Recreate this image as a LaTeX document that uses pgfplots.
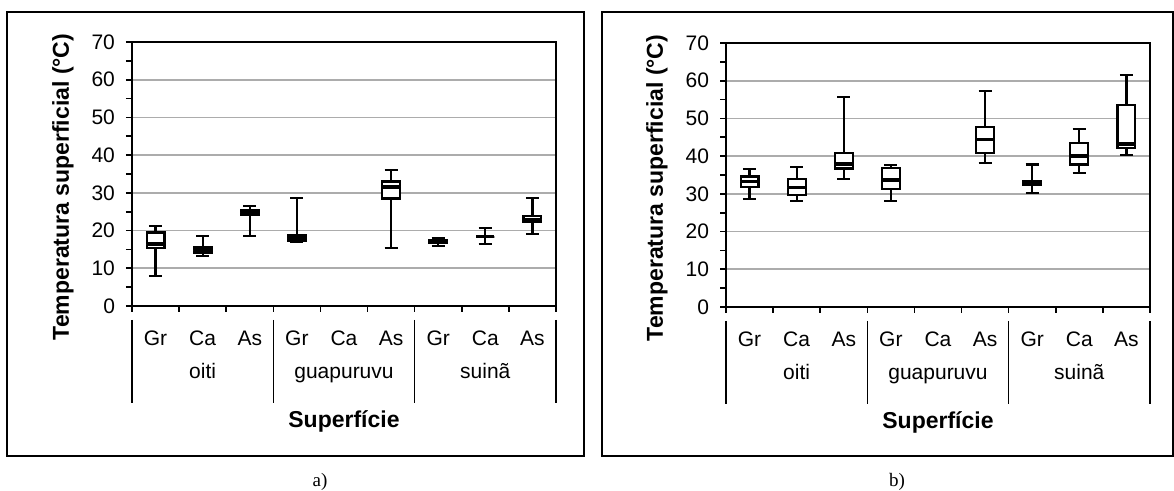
\documentclass[border=0pt]{standalone}
\usepackage{fontspec}
\setmainfont{Liberation Sans}
\newfontfamily\seriffont{Liberation Serif}
\usepackage{pgfplots}
\pgfplotsset{compat=1.18}
\usepgfplotslibrary{statistics}

\newcommand\ticks{\fontsize{10.5}{12}\selectfont}
\newcommand\titles{\bfseries\fontsize{11.5}{14}\selectfont}

\pgfplotsset{
  panel/.style={
    scale only axis, width=212pt, height=132pt,
    anchor=south west, clip=false,
    xmin=0.5, xmax=9.5, ymin=0, ymax=70,
    ytick={0,10,...,70}, minor y tick num=1,
    xtick={0.5,1.5,...,9.5}, xticklabels={},
    extra x ticks={1,2,...,9},
    extra x tick labels={Gr,Ca,As,Gr,Ca,As,Gr,Ca,As},
    extra x tick style={major tick length=0pt,
      xticklabel style={anchor=base, yshift=-19.8pt}},
    tick pos=left, tick align=outside,
    major tick length=3pt, minor tick length=3pt,
    tick style={black, line width=0.8pt},
    axis line style={line width=0.9pt},
    ymajorgrids, major grid style={gray!65, line width=0.8pt},
    ticklabel style={font=\ticks},
    yticklabel style={xshift=-2pt},
    /pgf/number format/assume math mode=true,
    boxplot/draw direction=y,
    boxplot/every median/.style={line width=1.7pt},
  },
  bx/.style={black, solid, line width=1.1pt, fill=white},
}

% group names, separators and axis titles
\newcommand\decor{%
  \pgfplotsinvokeforeach{0.5,3.5,6.5,9.5}{%
    \draw[line width=0.8pt] (axis cs:##1,0) ++(0pt,-7pt) -- ++(0pt,-41.5pt);}
  \node[anchor=base, yshift=-36.5pt, font=\ticks] at (axis cs:2,0) {oiti};
  \node[anchor=base, yshift=-36.5pt, font=\ticks] at (axis cs:5,0) {guapuruvu};
  \node[anchor=base, yshift=-36.5pt, font=\ticks] at (axis cs:8,0) {suinã};
  \node[anchor=base, yshift=-61pt, font=\titles] at (axis cs:5,0) {Superfície};
  \node[xshift=-34.5pt, yshift=-6.5pt, rotate=90, font=\titles]
    at (axis cs:0.5,35) {Temperatura superficial (°C)};
}

\begin{document}
\begin{tikzpicture}
\useasboundingbox (0,0) rectangle (587pt,-245.5pt);
\draw[line width=0.8pt] (3.5pt,-6pt) rectangle (292pt,-228pt);
\draw[line width=0.8pt] (301pt,-6pt) rectangle (586.5pt,-228pt);

\begin{axis}[panel, at={(66pt,-153pt)}]
\addplot[bx, boxplot prepared={draw position=1, lower whisker=8.0, lower quartile=15.3, median=16.4, upper quartile=19.5, upper whisker=21.2, box extend=0.38, whisker extend=0.28}] coordinates {};
\addplot[bx, boxplot prepared={draw position=2, lower whisker=13.3, lower quartile=14.0, median=14.8, upper quartile=15.5, upper whisker=18.5, box extend=0.38, whisker extend=0.28}] coordinates {};
\addplot[bx, boxplot prepared={draw position=3, lower whisker=18.5, lower quartile=24.1, median=24.8, upper quartile=25.5, upper whisker=26.5, box extend=0.38, whisker extend=0.28}] coordinates {};
\addplot[bx, boxplot prepared={draw position=4, lower whisker=17.0, lower quartile=17.3, median=18.0, upper quartile=18.7, upper whisker=28.6, box extend=0.38, whisker extend=0.28}] coordinates {};
\addplot[bx, boxplot prepared={draw position=6, lower whisker=15.3, lower quartile=28.5, median=31.6, upper quartile=33.0, upper whisker=36.0, box extend=0.38, whisker extend=0.28}] coordinates {};
\addplot[bx, boxplot prepared={draw position=7, lower whisker=15.9, lower quartile=16.8, median=17.2, upper quartile=17.6, upper whisker=17.9, box extend=0.38, whisker extend=0.28}] coordinates {};
\addplot[bx, boxplot prepared={draw position=8, lower whisker=16.4, lower quartile=18.4, median=18.4, upper quartile=18.4, upper whisker=20.6, box extend=0.38, whisker extend=0.28}] coordinates {};
\addplot[bx, boxplot prepared={draw position=9, lower whisker=19.0, lower quartile=22.3, median=23.0, upper quartile=23.8, upper whisker=28.6, box extend=0.38, whisker extend=0.28}] coordinates {};
\decor
\end{axis}

\begin{axis}[panel, at={(363pt,-153.5pt)}]
\addplot[bx, boxplot prepared={draw position=1, lower whisker=28.7, lower quartile=31.9, median=33.2, upper quartile=34.6, upper whisker=36.6, box extend=0.38, whisker extend=0.28}] coordinates {};
\addplot[bx, boxplot prepared={draw position=2, lower whisker=28.1, lower quartile=29.7, median=31.7, upper quartile=34.0, upper whisker=37.2, box extend=0.38, whisker extend=0.28}] coordinates {};
\addplot[bx, boxplot prepared={draw position=3, lower whisker=34.0, lower quartile=36.7, median=37.9, upper quartile=40.8, upper whisker=55.7, box extend=0.38, whisker extend=0.28}] coordinates {};
\addplot[bx, boxplot prepared={draw position=4, lower whisker=28.1, lower quartile=31.3, median=33.7, upper quartile=36.8, upper whisker=37.7, box extend=0.38, whisker extend=0.28}] coordinates {};
\addplot[bx, boxplot prepared={draw position=6, lower whisker=38.2, lower quartile=40.8, median=44.4, upper quartile=47.8, upper whisker=57.3, box extend=0.38, whisker extend=0.28}] coordinates {};
\addplot[bx, boxplot prepared={draw position=7, lower whisker=30.3, lower quartile=32.4, median=33.0, upper quartile=33.5, upper whisker=37.8, box extend=0.38, whisker extend=0.28}] coordinates {};
\addplot[bx, boxplot prepared={draw position=8, lower whisker=35.6, lower quartile=37.8, median=40.0, upper quartile=43.5, upper whisker=47.2, box extend=0.38, whisker extend=0.28}] coordinates {};
\addplot[bx, boxplot prepared={draw position=9, lower whisker=40.3, lower quartile=42.1, median=43.2, upper quartile=53.6, upper whisker=61.6, box extend=0.38, whisker extend=0.28}] coordinates {};
\decor
\end{axis}

\node[font=\seriffont\fontsize{9.5}{11}\selectfont] at (160pt,-241pt) {a)};
\node[font=\seriffont\fontsize{9.5}{11}\selectfont] at (448.5pt,-241pt) {b)};
\end{tikzpicture}
\end{document}
